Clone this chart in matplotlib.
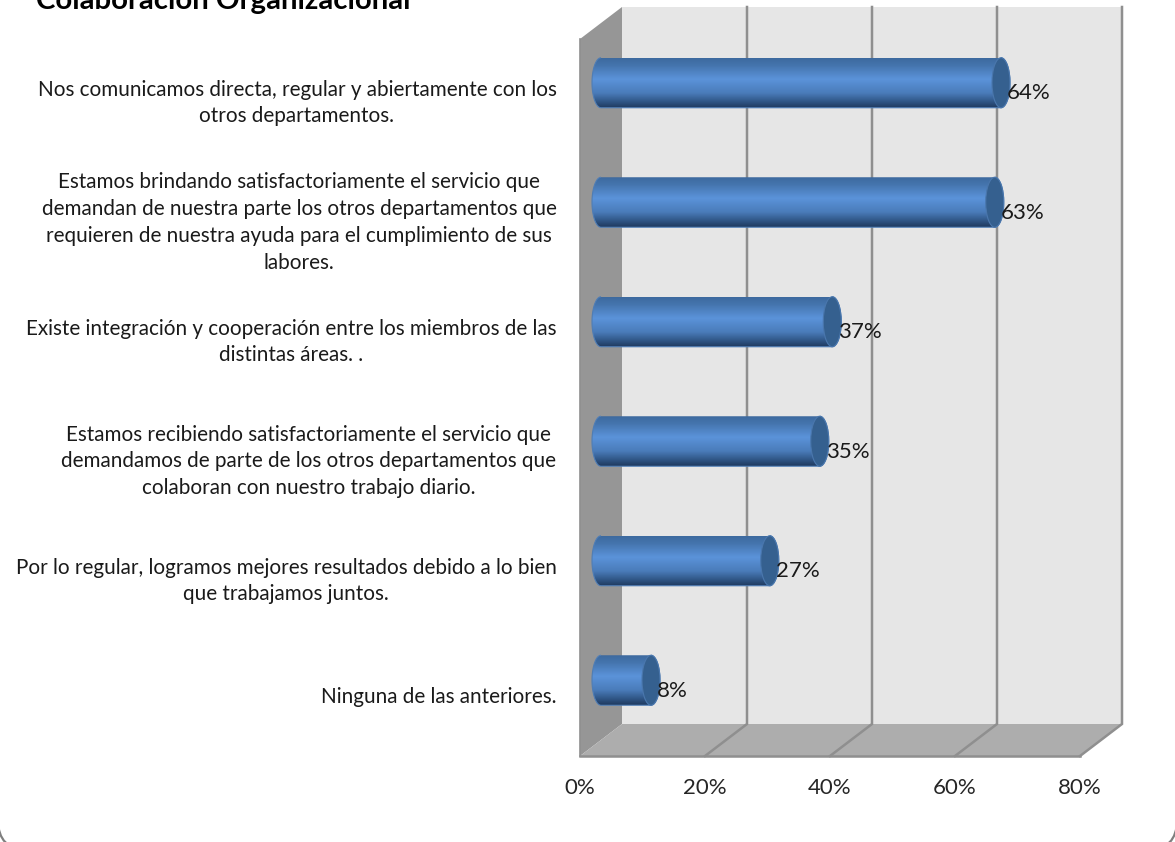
import matplotlib

matplotlib.use("Agg")
import matplotlib.pyplot as plt
import numpy as np
from matplotlib.colors import LinearSegmentedColormap
from matplotlib.patches import Ellipse, FancyBboxPatch, PathPatch, Polygon
from matplotlib.path import Path

categorias = [
    "Nos comunicamos directa, regular y abiertamente con los\notros departamentos.",
    "Estamos brindando satisfactoriamente el servicio que\ndemandan de nuestra parte los otros departamentos que\nrequieren de nuestra ayuda para el cumplimiento de sus\nlabores.",
    "Existe integración y cooperación entre los miembros de las\ndistintas áreas. .",
    "Estamos recibiendo satisfactoriamente el servicio que\ndemandamos de parte de los otros departamentos que\ncolaboran con nuestro trabajo diario.",
    "Por lo regular, logramos mejores resultados debido a lo bien\nque trabajamos juntos.",
    "Ninguna de las anteriores.",
]
valores = [64, 63, 37, 35, 27, 8]
ticks_x = [0, 20, 40, 60, 80]
titulo = "Colaboración Organizacional"

W, H = 1175, 842
X0, X1 = 580, 1080  # plano frontal, px
Y0, Y1 = 39, 756
PX_X = (X1 - X0) / 80
PX_Y = (Y1 - Y0) / 6
# profundidad de la caja 3D en unidades de datos
DX = 42 / PX_X
DY = -32 / PX_Y
MEDIO = 25 / PX_Y  # semialtura del cilindro
TAPA = 9 / PX_X  # semieje de la tapa

plt.rcParams["font.family"] = ["Lato", "DejaVu Sans"]

fig = plt.figure(figsize=(W / 100, H / 100), dpi=100, facecolor="white")

fondo = fig.add_axes([0, 0, 1, 1], zorder=0)
fondo.set_xlim(0, W)
fondo.set_ylim(H, 0)
fondo.axis("off")
fondo.add_patch(FancyBboxPatch((-2, -60), W + 4, H + 60 + 8, boxstyle="round,pad=0,rounding_size=30",
                               fc="white", ec="#7f7f7f", lw=1.6))
fondo.text(36, 9.5, titulo, fontsize=21.2, fontweight="bold", color="black", va="baseline", ha="left")

ax = fig.add_axes([X0 / W, 1 - Y1 / H, (X1 - X0) / W, (Y1 - Y0) / H], zorder=1)
ax.set_xlim(0, 80)
ax.set_ylim(6, 0)
ax.patch.set_visible(False)
for s in ax.spines.values():
    s.set_visible(False)

# paredes de la caja
borde = "#8f8f8f"
ax.add_patch(Polygon([(DX, DY), (80 + DX, DY), (80 + DX, 6 + DY), (DX, 6 + DY)], fc="#e6e6e6", ec="none",
                     clip_on=False, zorder=1))
ax.add_patch(Polygon([(0, 0), (DX, DY), (DX, 6 + DY), (0, 6)], fc="#969696", ec="none", clip_on=False, zorder=2))
ax.add_patch(Polygon([(0, 6), (DX, 6 + DY), (80 + DX, 6 + DY), (80, 6)], fc="#adadad", ec="none", clip_on=False, zorder=2))

for t in ticks_x[1:]:
    ax.plot([t, t + DX, t + DX], [6, 6 + DY, DY], color=borde, lw=1.8, clip_on=False, zorder=3, solid_joinstyle="miter")
ax.plot([0, 80], [6, 6], color=borde, lw=1.8, clip_on=False, zorder=3)
ax.plot([0, 0], [0, 6], color=borde, lw=1.2, clip_on=False, zorder=3)

cmap = LinearSegmentedColormap.from_list(
    "cilindro",
    [(0, "#3d6a9f"), (0.15, "#4575ae"), (0.42, "#5b93da"), (0.7, "#4a7cba"), (0.88, "#2f5585"), (1, "#1f3a5f")],
)
grad = np.linspace(0, 1, 128).reshape(-1, 1)
t_arco = np.linspace(np.pi / 2, 3 * np.pi / 2, 30)

for i, v in enumerate(valores):
    yc = i + 0.5 + DY / 2
    xa = DX / 2
    xb = v + DX / 2
    # contorno: media elipse izquierda, luego media elipse derecha
    xs = np.concatenate([xa + TAPA * np.cos(t_arco), xb + TAPA * np.cos(t_arco - np.pi)])
    ys = np.concatenate([yc - MEDIO * np.sin(t_arco), yc - MEDIO * np.sin(t_arco - np.pi)])
    cuerpo = PathPatch(Path(np.column_stack([xs, ys]), closed=False), fc="none", ec="#4f7db5", lw=0.8, zorder=5, clip_on=False)
    ax.add_patch(cuerpo)
    im = ax.imshow(grad, cmap=cmap, aspect="auto", extent=(xa - TAPA, xb + TAPA, yc + MEDIO, yc - MEDIO),
                   zorder=4, interpolation="bilinear", clip_on=True)
    im.set_clip_path(cuerpo)
    ax.add_patch(Ellipse((xb, yc), 2 * TAPA, 2 * MEDIO, fc="#35608f", ec="#4a77ad", lw=0.8, zorder=6, clip_on=False))
    ax.annotate(f"{v}%", (xb, yc), xytext=(4.5, -7.5), textcoords="offset points", fontsize=16, color="#1a1a1a",
                va="center", ha="left", zorder=7, annotation_clip=False)

ax.set_xlim(0, 80)
ax.set_ylim(6, 0)
ax.set_xticks(ticks_x, [f"{t}%" for t in ticks_x])
ax.set_yticks(np.arange(6) + 0.49, categorias)
ax.tick_params(axis="x", length=0, pad=15.5, labelsize=16, labelcolor="#262626")
ax.tick_params(axis="y", length=0, pad=17, labelsize=14.9, labelcolor="#1a1a1a")
for lab in ax.get_yticklabels():
    lab.set_multialignment("center")
    lab.set_linespacing(1.43)

fig.savefig("out.png", dpi=100)
